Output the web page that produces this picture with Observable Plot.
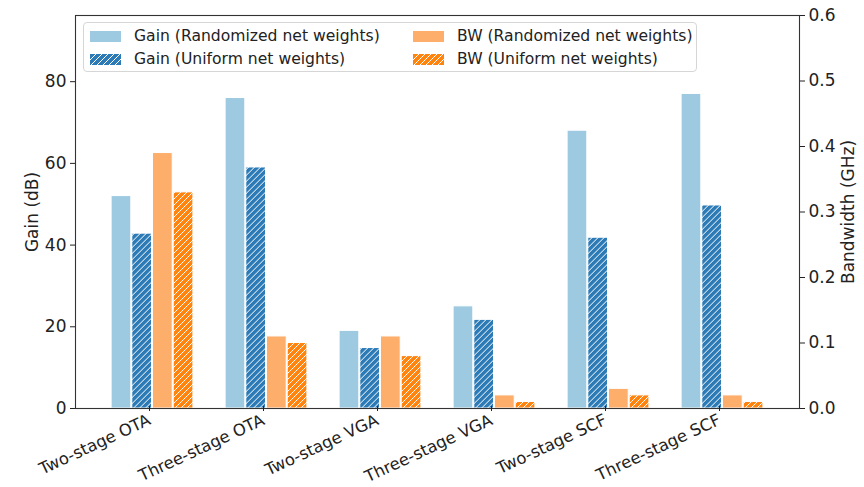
<!DOCTYPE html>
<html><head><meta charset="utf-8">
<script src="https://cdn.jsdelivr.net/npm/d3@7"></script>
<script src="https://cdn.jsdelivr.net/npm/@observablehq/plot@0.6"></script>
<style>
body{margin:0;background:#fff;font-family:"DejaVu Sans",sans-serif;}
#wrap{position:relative;width:864px;height:487px;}
g[aria-label="x-axis tick label"]{font-size:16.4px;}
.legend{position:absolute;left:83px;top:22px;width:614px;height:50px;border:1px solid #d6d6d6;border-radius:4px;background:rgba(255,255,255,0.8);box-sizing:border-box;font-size:15.6px;color:#222;}
.item{position:absolute;display:flex;align-items:center;height:20px;}
.item svg{margin-right:13px;}
</style>
</head><body><div id="wrap"></div>
<script>
const categories = ["Two-stage OTA","Three-stage OTA","Two-stage VGA","Three-stage VGA","Two-stage SCF","Three-stage SCF"];
const gainRandom  = [52, 76, 19, 25, 68, 77];
const gainUniform = [42.8, 59, 14.8, 21.7, 41.8, 49.7];
const bwRandom    = [0.39, 0.11, 0.11, 0.02, 0.03, 0.02];
const bwUniform   = [0.33, 0.10, 0.08, 0.01, 0.02, 0.01];
const gainTicks = [0, 20, 40, 60, 80];
const bwTicks = [0, 0.1, 0.2, 0.3, 0.4, 0.5, 0.6];
const seriesNames = ["Gain (Randomized net weights)","Gain (Uniform net weights)","BW (Randomized net weights)","BW (Uniform net weights)"];

const gainMax = 96.2, bwMax = 0.6, k = gainMax / bwMax;
const colors = {lightBlue:"#9ecae1", blue:"#2c7bb6", lightOrange:"#fdae6b", orange:"#ff830f"};

const series = [
  {name: seriesNames[0], values: gainRandom, scale: 1, fill: colors.lightBlue},
  {name: seriesNames[1], values: gainUniform, scale: 1, fill: "url(#hatchBlue)"},
  {name: seriesNames[2], values: bwRandom, scale: k, fill: colors.lightOrange},
  {name: seriesNames[3], values: bwUniform, scale: k, fill: "url(#hatchOrange)"}
];

const W = 864, H = 487, mL = 75, mR = 65, mT = 15, mB = 79;
const padOuter = 0.148;
const step = (W - mL - mR) / (categories.length + 2 * padOuter);
const barW = 0.18 * step;
const inset = (step - barW) / 2;

const marks = series.map((s, i) => Plot.barY(
  categories.map((c, j) => ({cat: c, v: s.values[j] * s.scale})),
  {x: "cat", y: "v", fill: s.fill, stroke: "white", strokeWidth: 1,
   insetLeft: inset, insetRight: inset, dx: (i - 1.5) * barW}
));

const svg = Plot.plot({
  width: W, height: H,
  marginLeft: mL, marginRight: mR, marginTop: mT, marginBottom: mB,
  style: {fontFamily: "DejaVu Sans, sans-serif", fontSize: "17px", color: "#222", background: "white"},
  x: {domain: categories, paddingInner: 0, paddingOuter: padOuter},
  y: {domain: [0, gainMax]},
  marks: [
    ...marks,
    Plot.frame({stroke: "#333", strokeWidth: 1.1}),
    Plot.axisX({tickRotate: -25, tickSize: 5, label: null, dx: -3, dy: -2}),
    Plot.axisY({ticks: gainTicks, tickSize: 5, label: "Gain (dB)", labelAnchor: "center", labelArrow: "none", labelOffset: 50}),
    Plot.axisY(bwTicks.map(v => v * k), {anchor: "right", tickSize: 5,
      tickFormat: d => (d / k).toFixed(1), label: "Bandwidth (GHz)", labelAnchor: "center", labelArrow: "none", labelOffset: 54})
  ]
});

const defs = `<defs>
<pattern id="hatchBlue" patternUnits="userSpaceOnUse" width="6" height="6">
<rect width="6" height="6" fill="${colors.blue}"/>
<path d="M-1,1 l2,-2 M0,6 l6,-6 M5,7 l2,-2" stroke="white" stroke-width="1"/>
</pattern>
<pattern id="hatchOrange" patternUnits="userSpaceOnUse" width="6" height="6">
<rect width="6" height="6" fill="${colors.orange}"/>
<path d="M-1,1 l2,-2 M0,6 l6,-6 M5,7 l2,-2" stroke="white" stroke-width="1"/>
</pattern></defs>`;
svg.insertAdjacentHTML("afterbegin", defs);

const wrap = document.getElementById("wrap");
wrap.appendChild(svg);

const legend = document.createElement("div");
legend.className = "legend";
const pos = [[6, 3], [6, 26], [329, 3], [329, 26]];
series.forEach((s, i) => {
  const it = document.createElement("div");
  it.className = "item";
  it.style.left = pos[i][0] + "px";
  it.style.top = pos[i][1] + "px";
  it.innerHTML = `<svg width="31" height="11"><rect width="31" height="11" fill="${s.fill}"/></svg><span>${s.name}</span>`;
  legend.appendChild(it);
});
wrap.appendChild(legend);
</script>
</body></html>
